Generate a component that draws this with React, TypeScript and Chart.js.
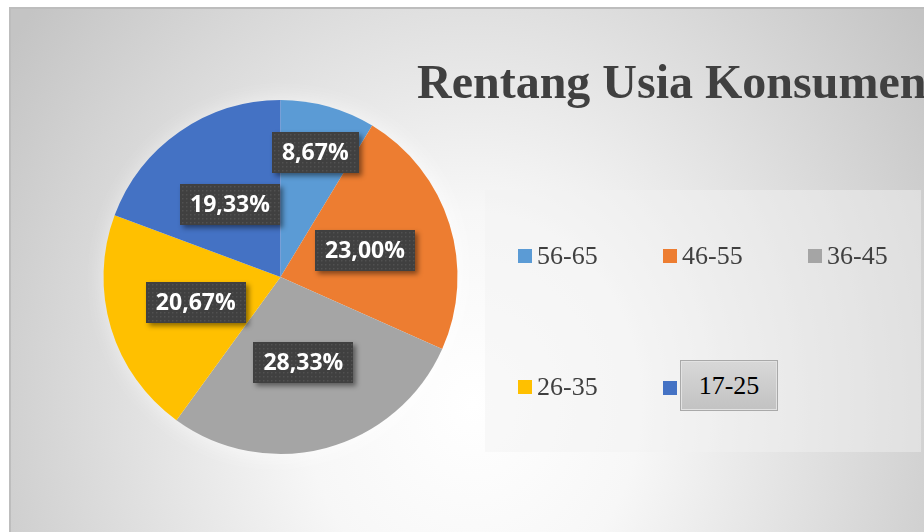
import React, { useEffect, useRef } from "react";
import { Chart, registerables } from "chart.js";

Chart.register(...registerables);

const chartTitle = "Rentang Usia Konsumen";
const categories = ["56-65", "46-55", "36-45", "26-35", "17-25"];
const shares = [8.67, 23.0, 28.33, 20.67, 19.33];
const sliceColors = ["#5B9BD5", "#ED7D31", "#A5A5A5", "#FFC000", "#4472C4"];
const labelRadiusFactor = [0.73, 0.5, 0.5, 0.5, 0.5];
const highlightedLegend = "17-25";

const formatPct = (v: number) => v.toFixed(2).replace(".", ",") + "%";

const glowPlugin = {
  id: "pieGlow",
  beforeDatasetsDraw(chart: any) {
    const meta = chart.getDatasetMeta(0);
    const arc = meta.data[0];
    if (!arc) return;
    const { x, y, outerRadius } = arc.getProps(["x", "y", "outerRadius"], true);
    const ctx = chart.ctx;
    ctx.save();
    ctx.shadowColor = "rgba(255,255,255,0.75)";
    ctx.shadowBlur = 24;
    ctx.shadowOffsetX = 4;
    ctx.shadowOffsetY = 2;
    ctx.fillStyle = "#ffffff";
    ctx.beginPath();
    ctx.arc(x, y, outerRadius - 1, 0, Math.PI * 2);
    ctx.fill();
    ctx.restore();
  },
};

const labelPlugin = {
  id: "boxLabels",
  afterDatasetsDraw(chart: any) {
    const ctx = chart.ctx;
    const meta = chart.getDatasetMeta(0);
    const values = chart.data.datasets[0].data as number[];
    meta.data.forEach((el: any, i: number) => {
      const p = el.getProps(["x", "y", "startAngle", "endAngle", "outerRadius"], true);
      const mid = (p.startAngle + p.endAngle) / 2;
      const r = p.outerRadius * labelRadiusFactor[i];
      const cx = p.x + Math.cos(mid) * r;
      const cy = p.y + Math.sin(mid) * r;
      const text = formatPct(values[i]);
      ctx.save();
      ctx.font = "bold 23px 'Open Sans'";
      const tw = ctx.measureText(text).width;
      const w = Math.round(tw + 20);
      const h = 41;
      const bx = Math.round(cx - w / 2);
      const by = Math.round(cy - h / 2);
      ctx.shadowColor = "rgba(0,0,0,0.45)";
      ctx.shadowBlur = 5;
      ctx.shadowOffsetX = 3;
      ctx.shadowOffsetY = 3;
      ctx.fillStyle = "#404040";
      ctx.fillRect(bx, by, w, h);
      ctx.shadowColor = "transparent";
      ctx.shadowBlur = 0;
      ctx.shadowOffsetX = 0;
      ctx.shadowOffsetY = 0;
      ctx.fillStyle = "rgba(255,255,255,0.09)";
      for (let yy = by + 2; yy < by + h - 1; yy += 4) {
        for (let xx = bx + 2; xx < bx + w - 1; xx += 4) {
          ctx.fillRect(xx, yy, 1.5, 1.5);
        }
      }
      ctx.fillStyle = "#ffffff";
      ctx.textAlign = "center";
      ctx.textBaseline = "middle";
      ctx.fillText(text, cx, by + h / 2 + 1);
      ctx.restore();
    });
  },
};

function PieChart() {
  const ref = useRef<HTMLCanvasElement | null>(null);
  useEffect(() => {
    if (!ref.current) return;
    const chart = new Chart(ref.current, {
      type: "pie",
      data: {
        labels: categories,
        datasets: [
          {
            data: shares,
            backgroundColor: sliceColors,
            borderWidth: 0,
          },
        ],
      },
      options: {
        responsive: false,
        animation: false,
        devicePixelRatio: 1,
        layout: { padding: { left: 103.5, right: 466.5, top: 100, bottom: 78 } },
        plugins: {
          legend: { display: false },
          tooltip: { enabled: false },
          title: { display: false },
        },
      },
      plugins: [glowPlugin, labelPlugin],
    } as any);
    return () => chart.destroy();
  }, []);
  return (
    <canvas
      ref={ref}
      width={924}
      height={532}
      style={{ position: "absolute", left: 0, top: 0, width: 924, height: 532 }}
    />
  );
}

export default function App() {
  return (
    <div
      style={{
        position: "fixed",
        left: 0,
        top: 0,
        width: 924,
        height: 532,
        overflow: "hidden",
        background: "#ffffff",
      }}
    >
      <div
        style={{
          position: "absolute",
          left: 9,
          top: 7,
          width: 940,
          height: 560,
          borderTop: "2px solid #bdbdbd",
          borderLeft: "2px solid #bdbdbd",
          background:
            "radial-gradient(ellipse 560px 640px at 462px 395px, #ffffff 0%, #f7f7f7 30%, #c4c4c4 100%)",
        }}
      />
      <PieChart />
      <div
        style={{
          position: "absolute",
          left: 417,
          top: 58,
          fontFamily: "'Liberation Serif', 'Times New Roman', serif",
          fontWeight: "bold",
          fontSize: 48,
          lineHeight: "48px",
          color: "#404040",
          whiteSpace: "nowrap",
        }}
      >
        {chartTitle}
      </div>
      <div
        style={{
          position: "absolute",
          left: 485,
          top: 190,
          width: 436,
          height: 262,
          background: "rgba(242,242,242,0.45)",
        }}
      />
      {categories.map((c, i) => {
        const col = i % 3;
        const row = Math.floor(i / 3);
        const left = 518 + col * 145;
        const centerY = 255.5 + row * 131;
        const hl = c === highlightedLegend;
        return (
          <div
            key={c}
            style={{
              position: "absolute",
              left,
              top: centerY - 30,
              height: 60,
              display: "flex",
              alignItems: "center",
              fontFamily: "'Liberation Serif', 'Times New Roman', serif",
              fontSize: 26,
              lineHeight: "26px",
              color: "#404040",
              whiteSpace: "nowrap",
            }}
          >
            <span
              style={{
                display: "inline-block",
                width: 14,
                height: 14,
                background: sliceColors[i],
                marginRight: hl ? 3 : 5,
                marginTop: hl ? 2 : 0,
              }}
            />
            {hl ? (
              <span
                style={{
                  display: "inline-flex",
                  alignItems: "center",
                  justifyContent: "center",
                  boxSizing: "border-box",
                  width: 98,
                  height: 51,
                  marginTop: -2,
                  border: "1px solid #a9a9a9",
                  background: "linear-gradient(#d8d8d8, #c2c2c2)",
                  color: "#000000",
                  boxShadow: "inset 0 0 0 1px #e2e2e2",
                }}
              >
                {c}
              </span>
            ) : (
              <span>{c}</span>
            )}
          </div>
        );
      })}
    </div>
  );
}
